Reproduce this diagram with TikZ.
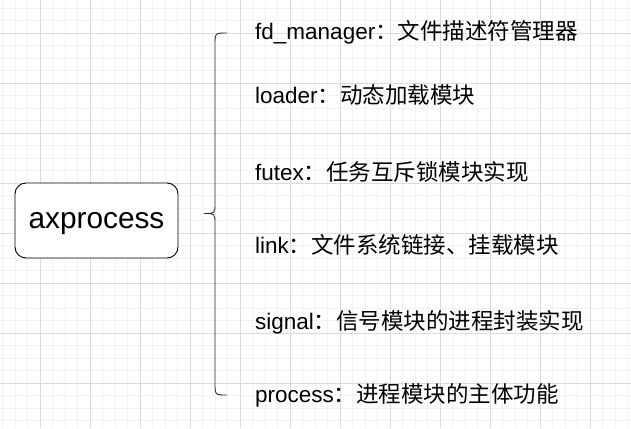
\documentclass[tikz,border=0pt]{standalone}
\usepackage{fontspec}
\setmainfont{Liberation Sans}
\newfontfamily\cjk{Noto Sans CJK SC}
\usepackage{tikz}

\begin{document}
\begin{tikzpicture}[x=1pt, y=-1pt,
  minorline/.style={draw=black!5, line width=0.8pt},
  majorline/.style={draw=black!14, line width=0.8pt},
  rootbox/.style={draw, rounded corners=11pt, line width=0.9pt, fill=white,
    minimum width=163pt, minimum height=75pt, text depth=0pt,
    font=\fontsize{29.8}{34}\selectfont},
  item/.style={anchor=west, inner sep=0pt, font=\fontsize{22.5}{26}\selectfont}
]
\useasboundingbox (0,0) rectangle (631,428);
% grid
\foreach \x in {2.5,15,...,631} \draw[minorline] (\x,0) -- (\x,428);
\foreach \y in {8.33,20.83,...,428} \draw[minorline] (0,\y) -- (631,\y);
\foreach \x in {40,90,...,631} \draw[majorline] (\x,0) -- (\x,428);
\foreach \y in {33.33,83.33,...,428} \draw[majorline] (0,\y) -- (631,\y);

\node[rootbox] (ax) at (96.5,220.5) {axprocess};

\coordinate (bt) at (227,33);
\coordinate (bm) at (204,213.5);
\coordinate (bb) at (227,395);
\draw[line width=0.9pt, black!80] (bt) .. controls (215,33) .. (215,45) -- (215,203)
  .. controls (215,213.5) .. (bm) .. controls (215,213.5) .. (215,224) -- (215,383)
  .. controls (215,395) .. (bb);

\node[item] (fd) at (255,32) {fd\_manager{\cjk ：文件描述符管理器}};
\node[item] (ld) at (255,95) {loader{\cjk ：动态加载模块}};
\node[item] (fx) at (255,172) {futex{\cjk ：任务互斥锁模块实现}};
\node[item] (lk) at (255,245) {link{\cjk ：文件系统链接、挂载模块}};
\node[item] (sg) at (255,322) {signal{\cjk ：信号模块的进程封装实现}};
\node[item] (pr) at (255,395) {process{\cjk ：进程模块的主体功能}};
\end{tikzpicture}
\end{document}
